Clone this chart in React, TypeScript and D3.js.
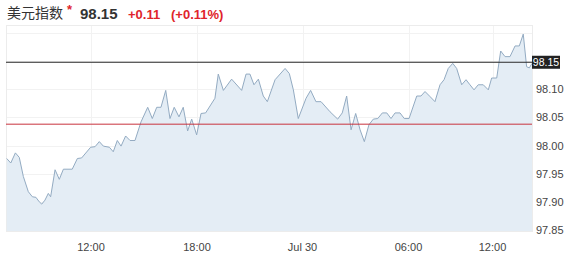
import React from "react";
import * as d3 from "d3";

// hours since Jul 29 00:00
const hours = [7.24,7.47,7.73,7.95,8.18,8.46,8.69,8.89,9.08,9.22,9.40,9.59,9.72,9.97,10.21,10.44,10.94,11.23,11.47,11.98,12.23,12.47,12.70,13.04,13.26,13.49,13.70,13.96,14.21,14.49,14.83,15.21,15.47,15.72,15.96,16.23,16.47,16.71,16.98,17.22,17.47,17.70,17.98,18.23,18.49,19.02,19.21,19.50,19.97,20.54,20.79,21.01,21.24,21.49,21.77,22.00,22.44,23.01,23.25,23.48,23.76,24.20,24.46,24.76,25.05,25.56,25.99,26.25,26.50,26.75,27.01,27.26,27.50,27.76,28.01,28.26,28.52,28.77,29.01,29.24,29.52,29.76,30.04,30.59,30.89,31.18,31.54,31.89,32.25,32.54,32.84,33.16,33.44,33.80,34.11,34.39,34.68,34.98,35.34,35.70,35.94,36.30,36.58,36.89,37.24,37.60,37.90,38.18,38.42,38.61,38.80];
const values = [97.977,97.969,97.987,97.979,97.945,97.918,97.909,97.908,97.900,97.896,97.903,97.915,97.909,97.957,97.940,97.958,97.958,97.977,97.978,97.997,97.998,98.007,97.999,97.997,97.989,98.009,97.999,98.017,98.009,98.009,98.042,98.068,98.048,98.068,98.068,98.098,98.048,98.068,98.051,98.068,98.026,98.047,98.019,98.057,98.058,98.084,98.127,98.098,98.118,98.098,98.127,98.127,98.108,98.118,98.088,98.078,98.117,98.137,98.128,98.099,98.048,98.084,98.098,98.078,98.078,98.060,98.047,98.058,98.088,98.028,98.057,98.028,98.007,98.037,98.047,98.048,98.058,98.058,98.048,98.058,98.058,98.048,98.048,98.088,98.088,98.096,98.087,98.078,98.108,98.117,98.137,98.146,98.137,98.108,98.117,98.108,98.099,98.108,98.108,98.099,98.120,98.120,98.168,98.158,98.158,98.177,98.177,98.198,98.140,98.138,98.146];

const xTickHours = [12, 18, 24, 30, 36];
const xTickLabels = ["12:00", "18:00", "Jul 30", "06:00", "12:00"];
const yTicks = [97.85, 97.9, 97.95, 98.0, 98.05, 98.1, 98.15, 98.2];
const lastPrice = 98.148;
const prevClose = 98.038;
const titleName = "美元指数";
const titlePrice = "98.15";
const titleChange = "+0.11";
const titlePct = "(+0.11%)";

const W = 577, H = 262;
const plotL = 6, plotR = 532, plotT = 25, plotB = 231;

export default function App() {
  const x = d3.scaleLinear()
    .domain([7.2, 12, 18, 24, 30, 36, 38.8])
    .range([plotL, 91, 197, 302.5, 408.5, 492.5, plotR]);
  const y = d3.scaleLinear().domain([97.8482, 98.2142]).range([plotB, plotT]);
  const pts = hours.map((h, i) => [h, values[i]] as [number, number]);
  const area = d3.area<[number, number]>().x(d => x(d[0])).y0(plotB).y1(d => y(d[1]))(pts) || "";
  const line = d3.line<[number, number]>().x(d => x(d[0])).y(d => y(d[1]))(pts) || "";
  const font = "Arial, 'Liberation Sans', sans-serif";
  return (
    <div style={{ position: "absolute", left: 0, top: 0 }}>
      <svg width={W} height={H} style={{ display: "block", background: "#fff" }}>
        {/* title */}
        <text x={7} y={18} fontSize={14} fill="#333" fontFamily="'Noto Sans CJK SC', sans-serif">{titleName}</text>
        <text x={67} y={14} fontSize={13} fill="#e0242b" fontWeight="bold" fontFamily={font}>*</text>
        <text x={80} y={18.5} fontSize={15} fill="#333" fontWeight="bold" fontFamily={font}>{titlePrice}</text>
        <text x={128} y={18.5} fontSize={13} fill="#e0242b" fontWeight="bold" fontFamily={font}>{titleChange}</text>
        <text x={171} y={18.5} fontSize={13} fill="#e0242b" fontWeight="bold" fontFamily={font}>{titlePct}</text>
        {/* grid */}
        {yTicks.map((t, i) => (
          <line key={"gy" + i} x1={plotL} x2={plotR} y1={Math.round(y(t)) + 0.5} y2={Math.round(y(t)) + 0.5} stroke="#f2f2f2" />
        ))}
        {xTickHours.map((h, i) => (
          <line key={"gx" + i} x1={Math.round(x(h)) + 0.5} x2={Math.round(x(h)) + 0.5} y1={plotT} y2={plotB} stroke="#f2f2f2" />
        ))}
        <rect x={plotL + 0.5} y={plotT + 0.5} width={plotR - plotL} height={plotB - plotT} fill="none" stroke="#ececec" />
        {/* area and line */}
        <path d={area} fill="#e4edf5" />
        <path d={line} fill="none" stroke="#93abc2" strokeWidth={1} />
        {/* reference lines */}
        <line x1={plotL} x2={plotR} y1={y(prevClose)} y2={y(prevClose)} stroke="#c9333d" strokeWidth={1} />
        <line x1={plotL} x2={plotR} y1={y(lastPrice)} y2={y(lastPrice)} stroke="#2a2a2a" strokeWidth={1} />
        {/* y axis labels */}
        {yTicks.filter(t => Math.abs(t - 98.15) > 1e-6 && t < 98.18).map((t, i) => (
          <text key={"yl" + i} x={536} y={y(t) + 4} fontSize={11} fill="#444" fontFamily={font}>{t.toFixed(2)}</text>
        ))}
        <rect x={plotR} y={y(lastPrice) - 6.5} width={28} height={13} fill="#222" />
        <text x={plotR + 14} y={y(lastPrice) + 4} fontSize={10.5} fill="#fff" textAnchor="middle" fontFamily={font}>{lastPrice.toFixed(2)}</text>
        {/* x axis labels */}
        {xTickHours.map((h, i) => (
          <text key={"xl" + i} x={x(h)} y={251} fontSize={11} fill="#444" textAnchor="middle" fontFamily={font}>{xTickLabels[i]}</text>
        ))}
      </svg>
    </div>
  );
}
